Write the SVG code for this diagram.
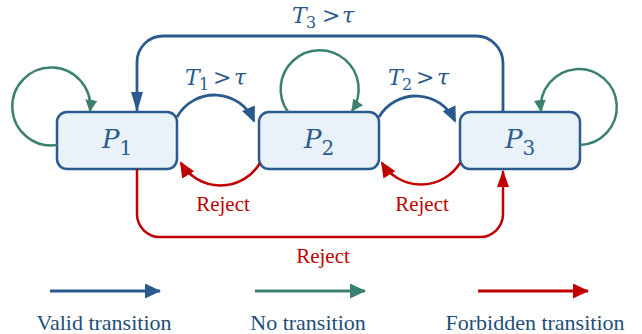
<svg xmlns="http://www.w3.org/2000/svg" width="642" height="334" viewBox="0 0 642 334">
<style>
.box{fill:#e9f1f9;stroke:#2b5a8f;stroke-width:2.5}
.math{font-family:"DejaVu Serif","Liberation Serif",serif;font-style:italic;fill:#2b5a8f}
.sub{font-style:normal}
.blue{fill:none;stroke:#2b5a8f;stroke-width:2.8}
.teal{fill:none;stroke:#3b8070;stroke-width:2.5}
.red{fill:none;stroke:#c00000;stroke-width:2.5}
.rej{font-family:"Liberation Serif","Times New Roman",serif;font-size:21px;fill:#c00000;text-anchor:middle}
.leg{font-family:"Liberation Serif","Times New Roman",serif;font-size:22px;fill:#1f4e79;text-anchor:middle}
</style>
<defs>
<marker id="bL" markerWidth="16" markerHeight="15" refX="15" refY="7.5" orient="auto" markerUnits="userSpaceOnUse"><path d="M0,0 L16,7.5 L0,15 z" fill="#2b5a8f"/></marker>
<marker id="tL" markerWidth="16" markerHeight="15" refX="15" refY="7.5" orient="auto" markerUnits="userSpaceOnUse"><path d="M0,0 L16,7.5 L0,15 z" fill="#3b8070"/></marker>
<marker id="rL" markerWidth="16" markerHeight="15" refX="15" refY="7.5" orient="auto" markerUnits="userSpaceOnUse"><path d="M0,0 L16,7.5 L0,15 z" fill="#c00000"/></marker>
<marker id="bA" markerWidth="16" markerHeight="14" refX="14" refY="7" orient="auto" markerUnits="userSpaceOnUse"><path d="M0,0 L16,7 L0,14 z" fill="#2b5a8f"/></marker>
<marker id="rA" markerWidth="16" markerHeight="14" refX="14" refY="7" orient="auto" markerUnits="userSpaceOnUse"><path d="M0,0 L16,7 L0,14 z" fill="#c00000"/></marker>
<marker id="bC" markerWidth="20" markerHeight="12" refX="19" refY="6" orient="auto" markerUnits="userSpaceOnUse"><path d="M0,0 L20,6 L0,12 z" fill="#2b5a8f"/></marker>
<marker id="rC" markerWidth="17" markerHeight="12" refX="16" refY="6" orient="auto" markerUnits="userSpaceOnUse"><path d="M0,0 L17,6 L0,12 z" fill="#c00000"/></marker>
<marker id="tS" markerWidth="12" markerHeight="12" refX="11" refY="6" orient="auto" markerUnits="userSpaceOnUse"><path d="M0,0 L12,6 L0,12 z" fill="#3b8070"/></marker>
</defs>

<g id="P1">
<rect class="box" x="57" y="112" width="120" height="57" rx="10"/>
<text class="math" x="117" y="148" font-size="26" text-anchor="middle">P<tspan class="sub" dy="7" font-size="20">1</tspan></text>
</g>
<g id="P2">
<rect class="box" x="259" y="112" width="120" height="57" rx="10"/>
<text class="math" x="319" y="148" font-size="26" text-anchor="middle">P<tspan class="sub" dy="7" font-size="20">2</tspan></text>
</g>
<g id="P3">
<rect class="box" x="460" y="112" width="120" height="57" rx="10"/>
<text class="math" x="520" y="148" font-size="26" text-anchor="middle">P<tspan class="sub" dy="7" font-size="20">3</tspan></text>
</g>

<g id="connectors">
<path class="blue" d="M503,112 V63 A27,27 0 0 0 476,36 H163 A26,26 0 0 0 137,62 V111" marker-end="url(#bC)"/>
<path class="blue" d="M177,117 A43,43 0 0 1 254,121" marker-end="url(#bA)"/>
<path class="blue" d="M379,117 A43,43 0 0 1 455,121" marker-end="url(#bA)"/>
<path class="red" d="M260,163 A46,46 0 0 1 181,163" marker-end="url(#rA)"/>
<path class="red" d="M460,163 A46,46 0 0 1 382,163" marker-end="url(#rA)"/>
<path class="red" d="M137,169 V214 A23,23 0 0 0 160,237 H480 A23,23 0 0 0 503,214 V171" marker-end="url(#rC)"/>
<path class="teal" d="M57,145 A39,39 0 1 1 90,111" marker-end="url(#tS)"/>
<path class="teal" d="M288,112 A39,39 0 1 1 352,111" marker-end="url(#tS)"/>
<path class="teal" d="M580,145 A38,38 0 1 0 541,111" marker-end="url(#tS)"/>
</g>

<g id="labels">
<text class="math" y="85" font-size="22"><tspan x="185">T</tspan><tspan class="sub" x="199" dy="5" font-size="16">1</tspan><tspan class="sub" x="213" dy="-5">&gt;</tspan><tspan x="234">τ</tspan></text>
<text class="math" y="85" font-size="22"><tspan x="388">T</tspan><tspan class="sub" x="402" dy="5" font-size="16">2</tspan><tspan class="sub" x="416" dy="-5">&gt;</tspan><tspan x="437">τ</tspan></text>
<text class="math" y="23" font-size="22"><tspan x="292">T</tspan><tspan class="sub" x="306" dy="5" font-size="16">3</tspan><tspan class="sub" x="322" dy="-5">&gt;</tspan><tspan x="342">τ</tspan></text>
<text class="rej" x="223" y="211">Reject</text>
<text class="rej" x="422" y="211">Reject</text>
<text class="rej" x="323" y="263">Reject</text>
</g>

<g id="legend">
<path class="blue" d="M50,291 H160" marker-end="url(#bL)" style="stroke-width:3"/>
<path class="teal" d="M255,291 H365" marker-end="url(#tL)" style="stroke-width:3"/>
<path class="red" d="M478,291 H588" marker-end="url(#rL)" style="stroke-width:3"/>
<text class="leg" x="104" y="330">Valid transition</text>
<text class="leg" x="308" y="330">No transition</text>
<text class="leg" x="535" y="330">Forbidden transition</text>
</g>
</svg>
